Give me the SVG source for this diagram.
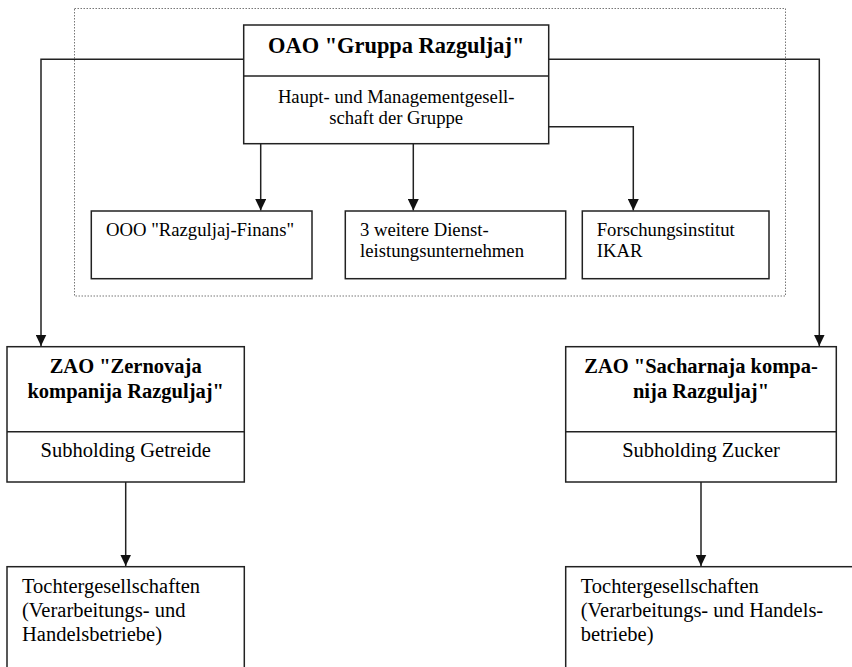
<svg xmlns="http://www.w3.org/2000/svg" width="852" height="667" viewBox="0 0 852 667">
<style>
.box{fill:#fff;stroke:#222;stroke-width:1.5}
.div{stroke:#222;stroke-width:1.5}
.con{fill:none;stroke:#222;stroke-width:1.5}
.t{fill:#000}
.title{font-size:22.4px;font-weight:bold}
.small{font-size:18.7px}
.big{font-size:20.5px}
.bold{font-weight:bold}
</style>
<defs>
<marker id="ah" markerUnits="userSpaceOnUse" markerWidth="12" markerHeight="11" refX="11.5" refY="5.5" orient="auto" viewBox="0 0 12 11">
<path d="M0,0 L11.5,5.5 L0,11 Z" fill="#111"/>
</marker>
</defs>
<rect x="74.5" y="8.5" width="711" height="287.5" fill="none" stroke="#777" stroke-width="1" stroke-dasharray="1.5,1.5"/>
<g id="connectors">
<path class="con" d="M243.7,59.3 H41 V346" marker-end="url(#ah)"/>
<path class="con" d="M548.7,59.3 H819.3 V346" marker-end="url(#ah)"/>
<path class="con" d="M260.7,143.7 V210.5" marker-end="url(#ah)"/>
<path class="con" d="M413.3,143.7 V210.5" marker-end="url(#ah)"/>
<path class="con" d="M548.7,126.7 H633.3 V210.5" marker-end="url(#ah)"/>
<path class="con" d="M125.7,482 V566" marker-end="url(#ah)"/>
<path class="con" d="M701,482 V566" marker-end="url(#ah)"/>
</g>
<g font-family="'Liberation Serif', 'Times New Roman', serif">
<g id="holding">
<rect class="box" x="243.7" y="25" width="305" height="118.7"/>
<line class="div" x1="243.7" y1="76" x2="548.7" y2="76"/>
<text class="t title" x="396.2" y="53.3" text-anchor="middle">OAO "Gruppa Razguljaj"</text>
<text class="t small" x="396.2" y="103.3" text-anchor="middle">Haupt- und Managementgesell-</text>
<text class="t small" x="396.2" y="124.3" text-anchor="middle">schaft der Gruppe</text>
</g>
<g id="finans">
<rect class="box" x="91.3" y="211" width="220.7" height="67.7"/>
<text class="t small" x="106" y="236">OOO "Razguljaj-Finans"</text>
</g>
<g id="dienst">
<rect class="box" x="345.3" y="211" width="220.4" height="67.7"/>
<text class="t small" x="360" y="236">3 weitere Dienst-</text>
<text class="t small" x="360" y="256.7">leistungsunternehmen</text>
</g>
<g id="ikar">
<rect class="box" x="582.3" y="211" width="186.7" height="67.7"/>
<text class="t small" x="596.7" y="236">Forschungsinstitut</text>
<text class="t small" x="596.7" y="256.7">IKAR</text>
</g>
<g id="zernovaja">
<rect class="box" x="7" y="346.7" width="237.3" height="135.3"/>
<line class="div" x1="7" y1="431.7" x2="244.3" y2="431.7"/>
<text class="t big bold" x="125.7" y="373.3" text-anchor="middle">ZAO "Zernovaja</text>
<text class="t big bold" x="125.7" y="398.3" text-anchor="middle">kompanija Razguljaj"</text>
<text class="t big" x="125.7" y="457.3" text-anchor="middle">Subholding Getreide</text>
</g>
<g id="sacharnaja">
<rect class="box" x="565.7" y="346.7" width="270.6" height="135.3"/>
<line class="div" x1="565.7" y1="431.7" x2="836.3" y2="431.7"/>
<text class="t big bold" x="701" y="373.3" text-anchor="middle">ZAO "Sacharnaja kompa-</text>
<text class="t big bold" x="701" y="398.3" text-anchor="middle">nija Razguljaj"</text>
<text class="t big" x="701" y="457.3" text-anchor="middle">Subholding Zucker</text>
</g>
<g id="toechter-getreide">
<rect class="box" x="7" y="566.7" width="237.3" height="110"/>
<text class="t big" x="22" y="593.3">Tochtergesellschaften</text>
<text class="t big" x="22" y="617">(Verarbeitungs- und</text>
<text class="t big" x="22" y="640.7">Handelsbetriebe)</text>
</g>
<g id="toechter-zucker">
<rect class="box" x="565.7" y="566.7" width="300" height="110"/>
<text class="t big" x="580.7" y="593.3">Tochtergesellschaften</text>
<text class="t big" x="580.7" y="617">(Verarbeitungs- und Handels-</text>
<text class="t big" x="580.7" y="640.7">betriebe)</text>
</g>
</g>
</svg>
